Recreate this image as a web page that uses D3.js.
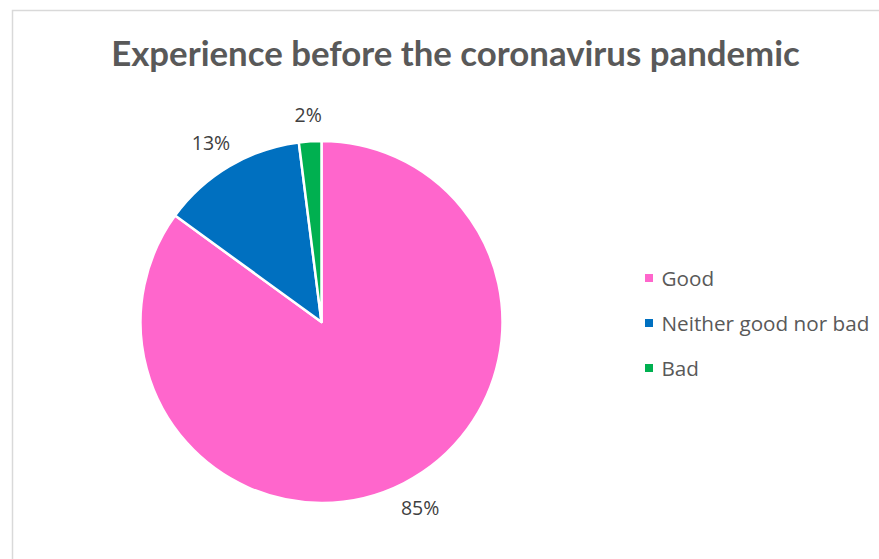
<!DOCTYPE html>
<html>
<head>
<meta charset="utf-8">
<script src="https://cdn.jsdelivr.net/npm/d3@7"></script>
<style>
  html, body { margin: 0; padding: 0; background: #fff; }
  svg { display: block; }
  text { font-family: "Open Sans", Lato, sans-serif; }
  text.title { font-family: Lato, "Open Sans", sans-serif; }
</style>
</head>
<body>
<svg id="chart" width="879" height="559"></svg>
<script>
// Survey answers and their shares (%)
const categories = ["Good", "Neither good nor bad", "Bad"];
const shares = [85, 13, 2];
const sliceColors = ["#FF66CC", "#0070C0", "#00B050"];
const titleText = "Experience before the coronavirus pandemic";

const svg = d3.select("#chart");
const W = 879, H = 559;

// chart area frame
svg.append("rect")
  .attr("x", 12.5).attr("y", 10.5)
  .attr("width", W + 10).attr("height", H + 10)
  .attr("fill", "#fff")
  .attr("stroke", "#d9d9d9").attr("stroke-width", 1.5);

// helper: scale a text element's font size so it spans a given width
function fitWidth(sel, target, base) {
  sel.attr("font-size", base);
  const w = sel.node().getComputedTextLength();
  const size = base * target / w;
  sel.attr("font-size", size);
  return size;
}

// title
const title = svg.append("text")
  .attr("class", "title")
  .attr("x", 455.5).attr("y", 66)
  .attr("text-anchor", "middle")
  .attr("font-weight", "bold")
  .attr("fill", "#595959")
  .text(titleText);
fitWidth(title, 689, 32);

// pie
const cx = 321.5, cy = 322, radius = 181;
const color = d3.scaleOrdinal().domain(categories).range(sliceColors);
const data = categories.map((c, i) => ({ category: c, value: shares[i] }));

const pie = d3.pie().value(d => d.value).sort(null);
const arcs = pie(data);
const arc = d3.arc().innerRadius(0).outerRadius(radius);

const g = svg.append("g").attr("transform", `translate(${cx},${cy})`);
g.selectAll("path.slice")
  .data(arcs)
  .join("path")
  .attr("class", "slice")
  .attr("d", arc)
  .attr("fill", d => color(d.data.category))
  .attr("stroke", "#fff")
  .attr("stroke-width", 2.5)
  .attr("stroke-linejoin", "round");

// percentage labels just outside each slice
const labelGap = 17;
g.selectAll("text.pct")
  .data(arcs)
  .join("text")
  .attr("class", "pct")
  .attr("text-anchor", "middle")
  .attr("dominant-baseline", "central")
  .attr("fill", "#404040")
  .attr("font-size", 19.5)
  .text(d => d.data.value + "%")
  .each(function(d) {
    const a = (d.startAngle + d.endAngle) / 2;
    const bb = this.getBBox();
    const hw = bb.width / 2, hh = 10;
    const s = Math.sin(a), c = -Math.cos(a);
    const r = radius + labelGap;
    d3.select(this)
      .attr("x", r * s + hw * s)
      .attr("y", r * c + hh * c);
  });

// legend
const legend = svg.append("g").attr("transform", "translate(645,0)");
const legendY = d3.scalePoint().domain(categories).range([278, 368]);
const items = legend.selectAll("g.item")
  .data(categories)
  .join("g")
  .attr("class", "item")
  .attr("transform", d => `translate(0,${legendY(d)})`);
items.append("rect")
  .attr("x", 0).attr("y", -4)
  .attr("width", 8).attr("height", 8)
  .attr("fill", d => color(d));
const labels = items.append("text")
  .attr("x", 16.5).attr("y", 0)
  .attr("dominant-baseline", "central")
  .attr("fill", "#595959")
  .text(d => d);
// size all legend entries from the widest one
const widest = labels.filter(d => d === "Neither good nor bad");
const legendSize = fitWidth(widest, 208, 18);
labels.attr("font-size", legendSize);
</script>
</body>
</html>
